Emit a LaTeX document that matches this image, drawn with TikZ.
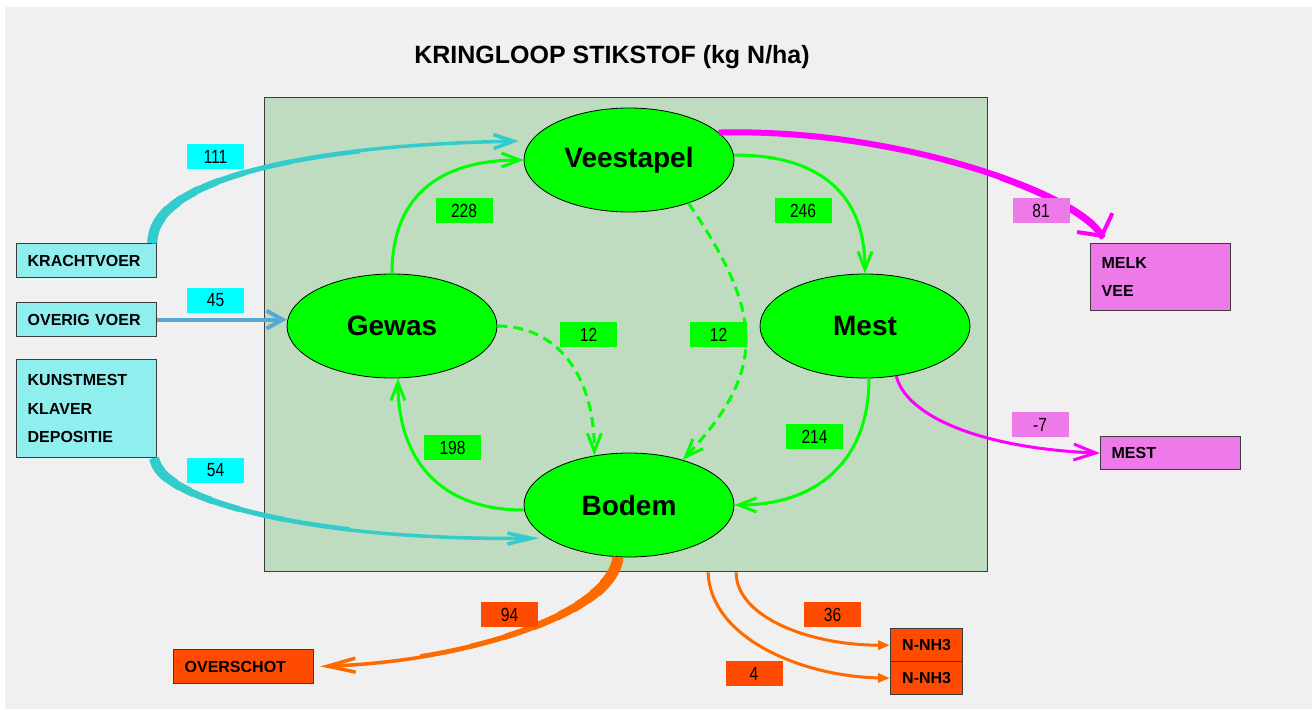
\documentclass[tikz,border=0pt]{standalone}
\usepackage{fontspec}
\setmainfont{Liberation Sans}
\newfontfamily\numfont[FakeStretch=0.82]{Liberation Sans}
\usetikzlibrary{shapes.geometric,arrows.meta}

\definecolor{bggray}{RGB}{240,240,240}
\definecolor{farmgreen}{RGB}{192,220,192}
\definecolor{poolgreen}{RGB}{0,255,0}
\definecolor{infill}{RGB}{143,238,238}
\definecolor{inlab}{RGB}{0,255,255}
\definecolor{feedteal}{RGB}{51,204,204}
\definecolor{feedblue}{RGB}{85,170,210}
\definecolor{outpink}{RGB}{238,122,233}
\definecolor{outmagenta}{RGB}{255,0,255}
\definecolor{lossred}{RGB}{255,75,0}
\definecolor{lossorange}{RGB}{255,106,0}
\definecolor{boxline}{RGB}{60,60,60}

\newcommand\titlefont{\fontsize{25}{30}\selectfont\bfseries}
\newcommand\poolfont{\fontsize{28}{32}\selectfont\bfseries}
\newcommand\boxfont{\fontsize{16}{28.5}\selectfont\bfseries}
\newcommand\flowfont{\numfont\fontsize{19}{22}\selectfont}

\begin{document}
\begin{tikzpicture}[x=1pt, y=-1pt,
    pool/.style={ellipse, draw=black, line width=0.8pt, fill=poolgreen, minimum width=210pt, minimum height=104pt, inner sep=0pt, font=\poolfont},
    srcbox/.style={draw=boxline, line width=1.3pt, anchor=north west, minimum height=34pt, text width=118pt, inner xsep=11pt, inner ysep=0pt, align=left, font=\boxfont},
    nh3box/.style={draw=boxline, line width=1.3pt, fill=lossred, anchor=north west, minimum width=72pt, minimum height=33pt, inner sep=0pt, font=\boxfont},
    flowlab/.style={minimum width=57pt, minimum height=25pt, inner sep=0pt, font=\flowfont},
    loopflow/.style={poolgreen, line width=3pt, -{Straight Barb[length=18pt,width=14pt]}},
    loopdash/.style={loopflow, dash pattern=on 10pt off 6pt}]

% background
\fill[white] (0,0) rectangle (1316,709);
\fill[bggray] (5,7) rectangle (1312,709);

\node[font=\titlefont] (title) at (612,57) {KRINGLOOP STIKSTOF (kg N/ha)};
\node[draw=boxline, line width=1.3pt, fill=farmgreen, anchor=north west, minimum width=723pt, minimum height=474pt, inner sep=0pt] (farm) at (264,97) {};

% pools
\node[pool] (vee) at (629,160) {Veestapel};
\node[pool] (gewas) at (392,326) {Gewas};
\node[pool] (mest) at (865,326) {Mest};
\node[pool] (bodem) at (629,505) {Bodem};

% inputs and outputs
\node[srcbox, fill=infill] (kracht) at (16,243) {KRACHTVOER};
\node[srcbox, fill=infill] (overig) at (16,302) {OVERIG VOER};
\node[srcbox, fill=infill, minimum height=98pt] (kunst) at (16,359) {KUNSTMEST\\KLAVER\\DEPOSITIE};
\node[srcbox, fill=outpink, minimum height=67pt] (melk) at (1090,243) {MELK\\VEE};
\node[srcbox, fill=outpink, minimum height=33pt] (mestout) at (1100,436) {MEST};
\node[srcbox, fill=lossred] (overschot) at (173,649) {OVERSCHOT};
\node[nh3box] (nh3a) at (890,628) {N-NH3};
\node[nh3box] (nh3b) at (890,661) {N-NH3};

% feed in
\foreach \w/\cut in {10/165, 9/180, 8/197, 7/218, 6/245, 5/290, 4.2/360} {
  \begin{scope}
    \clip (0,0) rectangle (\cut,709);
    \draw[feedteal, line width=\w pt] ([xshift=-5pt]kracht.north east) .. controls +(0,-63) and +(-230,4) .. (vee.169);
  \end{scope}
}
\draw[feedteal, line width=3.5pt, -{Straight Barb[length=20pt,width=14pt]}, shorten >=12pt] ([xshift=-5pt]kracht.north east) .. controls +(0,-63) and +(-230,4) .. (vee.169);

\draw[feedblue, line width=4pt, -{Straight Barb[length=16pt,width=18pt]}] (overig.east) -- (overig.east -| gewas.west);

\foreach \w/\cut in {10/165, 9/178, 8/192, 7/212, 6/240, 5/285, 4.2/350} {
  \begin{scope}
    \clip (0,0) rectangle (\cut,709);
    \draw[feedteal, line width=\w pt] ([xshift=-3pt]kunst.south east) .. controls +(5,40) and +(-247,3) .. (bodem.202);
  \end{scope}
}
\draw[feedteal, line width=3.5pt, -{Straight Barb[length=24pt,width=11pt]}, shorten >=8pt] ([xshift=-3pt]kunst.south east) .. controls +(5,40) and +(-247,3) .. (bodem.202);

% cycle
\draw[loopflow] (gewas.north) .. controls +(0,-85) and +(-75,0) .. (vee.west);
\draw[loopflow] ([yshift=5pt]vee.east) .. controls +(85,0) and +(0,-80) .. (mest.north);
\draw[loopflow] ([xshift=4pt]mest.south) .. controls +(0,85) and +(80,0) .. (bodem.east);
\draw[loopflow] ([yshift=-5pt]bodem.west) .. controls +(-85,0) and +(0,80) .. ([xshift=6pt]gewas.south);
\draw[loopdash] (gewas.east) .. controls +(60,0) and +(0,-80) .. (bodem.125);
\draw[loopdash] (vee.-36) .. controls +(75,110) and +(85,-90) .. (bodem.40);

% out
\coordinate (melktop) at (1103,238);
\foreach \w/\cut in {4/700, 5/930, 6/1000} {
  \begin{scope}
    \clip (\cut,0) rectangle (1316,709);
    \draw[outmagenta, line width=\w pt] (vee.17) .. controls (900,128) and (1080,195) .. (melktop);
  \end{scope}
}
\draw[outmagenta, line width=6pt, -{Straight Barb[length=15pt,width=40pt,line width=4pt]}] (vee.17) .. controls (900,128) and (1080,195) .. (melktop);
\draw[outmagenta, line width=3pt, -{Straight Barb[length=22pt,width=16pt]}] (mest.-58) .. controls +(10,40) and +(-120,-5) .. (mestout.west);

% losses
\foreach \w/\cut in {11/600, 10/590, 9/575, 8/558, 7/535, 6/505, 5/470, 4.2/420} {
  \begin{scope}
    \clip (\cut,0) rectangle (1316,709);
    \draw[lossorange, line width=\w pt] ([xshift=-11pt]bodem.south) .. controls +(-6,53) and +(166,-6) .. (overschot.east);
  \end{scope}
}
\draw[lossorange, line width=3.5pt, -{Straight Barb[length=28pt,width=14pt]}, shorten >=6pt] ([xshift=-11pt]bodem.south) .. controls +(-6,53) and +(166,-6) .. (overschot.east);
\draw[lossorange, line width=3pt, -{Triangle[length=12pt,width=9pt]}] ([xshift=110pt]farm.south) .. controls +(0,45) and +(-80,0) .. (nh3a.west);
\draw[lossorange, line width=3pt, -{Triangle[length=12pt,width=9pt]}] ([xshift=82pt]farm.south) .. controls +(2,65) and +(-90,-2) .. (nh3b.west);

% flow labels
\node[flowlab, fill=inlab] (l111) at (215.5,156.5) {111};
\node[flowlab, fill=inlab] (l45) at (215.5,300.5) {45};
\node[flowlab, fill=inlab] (l54) at (215.5,470.5) {54};
\node[flowlab, fill=poolgreen] (l228) at (464,210.5) {228};
\node[flowlab, fill=poolgreen] (l246) at (803,210.5) {246};
\node[flowlab, fill=poolgreen] (l12a) at (588.5,334.5) {12};
\node[flowlab, fill=poolgreen] (l12b) at (718.5,334.5) {12};
\node[flowlab, fill=poolgreen] (l198) at (452.5,447.5) {198};
\node[flowlab, fill=poolgreen] (l214) at (814.5,436.5) {214};
\node[flowlab, fill=outpink] (l81) at (1041,210.5) {81};
\node[flowlab, fill=outpink] (lmin7) at (1040,424.5) {-7};
\node[flowlab, fill=lossred] (l94) at (509.5,614.5) {94};
\node[flowlab, fill=lossred] (l36) at (832.5,614.5) {36};
\node[flowlab, fill=lossred] (l4) at (754,673.5) {4};
\end{tikzpicture}
\end{document}
